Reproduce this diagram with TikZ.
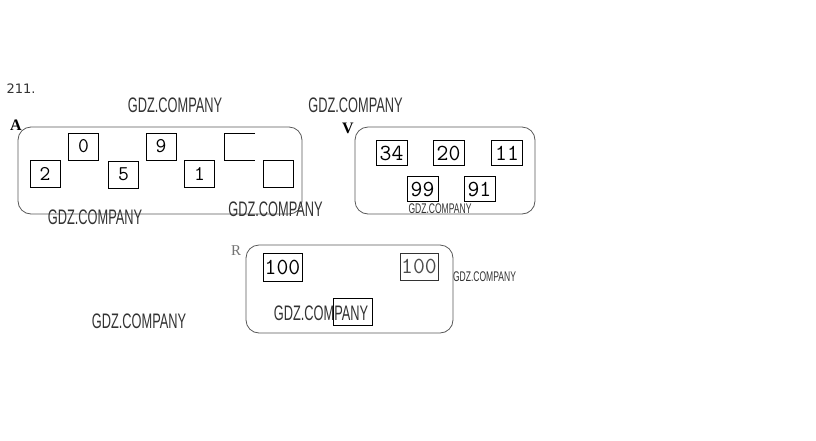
\documentclass[tikz,border=0pt]{standalone}
\usepackage{fontspec}
\setmainfont{Liberation Serif}
\newfontfamily\digitfont{Latin Modern Mono}
\newfontfamily\wmfont{Liberation Sans}
\newfontfamily\numfont{DejaVu Sans}
\begin{document}
\begin{tikzpicture}[x=1pt,y=-1pt,
  setbox/.style={draw=black!65, line width=0.8pt, rounded corners=13pt, inner sep=0pt},
  numbox/.style={draw=black, line width=0.8pt, inner sep=0pt, minimum width=30pt, minimum height=27pt, font=\digitfont\fontsize{21}{21}\selectfont},
  bignum/.style={numbox, minimum width=31pt, minimum height=25pt, font=\digitfont\fontsize{23}{23}\selectfont},
  setlabel/.style={font=\bfseries\fontsize{16}{16}\selectfont, inner sep=0pt},
  wm/.style={font=\wmfont\fontsize{21}{21}\selectfont, text=black!80, xscale=0.61, inner sep=0pt},
  wmsmall/.style={font=\wmfont\fontsize{14}{14}\selectfont, text=black!80, xscale=0.61, inner sep=0pt}]
\useasboundingbox[fill=white] (0,0) rectangle (816,440);
% problem number
\node[font=\numfont\fontsize{13}{13}\selectfont, text=black!80, inner sep=0pt] (num) at (21,89) {211.};
% set A
\node[setbox, minimum width=284pt, minimum height=87pt] (A) at (160,170.5) {};
\node[setlabel] (Alab) at (16,125) {A};
\node[numbox] (a2) at (45,174) {2};
\node[numbox] (a0) at (83.5,146.5) {0};
\node[numbox] (a5) at (123.5,174.5) {5};
\node[numbox] (a9) at (161,146.5) {9};
\node[numbox] (a1) at (199.5,174) {1};
\coordinate (e1) at (224,133);
\draw[line width=0.8pt] (255,133) -- (e1) -- (224,160) -- (255,160);
\node[numbox] (ae) at (278,174) {};
% set V
\node[setbox, minimum width=180pt, minimum height=87pt] (V) at (445,170.5) {};
\node[setlabel] (Vlab) at (348,128) {V};
\node[bignum] (v34) at (391.5,153) {34};
\node[bignum] (v20) at (448.5,153) {20};
\node[bignum] (v11) at (507,153) {11};
\node[bignum] (v99) at (422.5,189) {99};
\node[bignum] (v91) at (479.5,189) {91};
% set R
\node[setbox, minimum width=207pt, minimum height=88pt] (R) at (349.5,289) {};
\node[setlabel, font=\fontsize{15}{15}\selectfont, text=black!55] (Rlab) at (236,251) {R};
\node[bignum, minimum width=39pt, minimum height=28pt] (r1) at (282.5,267) {100};
\node[bignum, minimum width=38pt, minimum height=27pt, draw=black!80, text=black!70] (r2) at (419,266.5) {100};
\node[numbox, minimum width=39pt, minimum height=27pt] (re) at (352.5,311.5) {};
% watermarks
\node[wm] (w1) at (175,105) {GDZ.COMPANY};
\node[wm] (w2) at (355.5,105) {GDZ.COMPANY};
\node[wm] (w3) at (95,217) {GDZ.COMPANY};
\node[wm] (w4) at (275.5,209) {GDZ.COMPANY};
\node[wmsmall] (w5) at (440,209) {GDZ.COMPANY};
\node[wmsmall] (w6) at (484.5,277) {GDZ.COMPANY};
\node[wm] (w7) at (139,321) {GDZ.COMPANY};
\node[wm] (w8) at (321,313) {GDZ.COMPANY};
\end{tikzpicture}
\end{document}
